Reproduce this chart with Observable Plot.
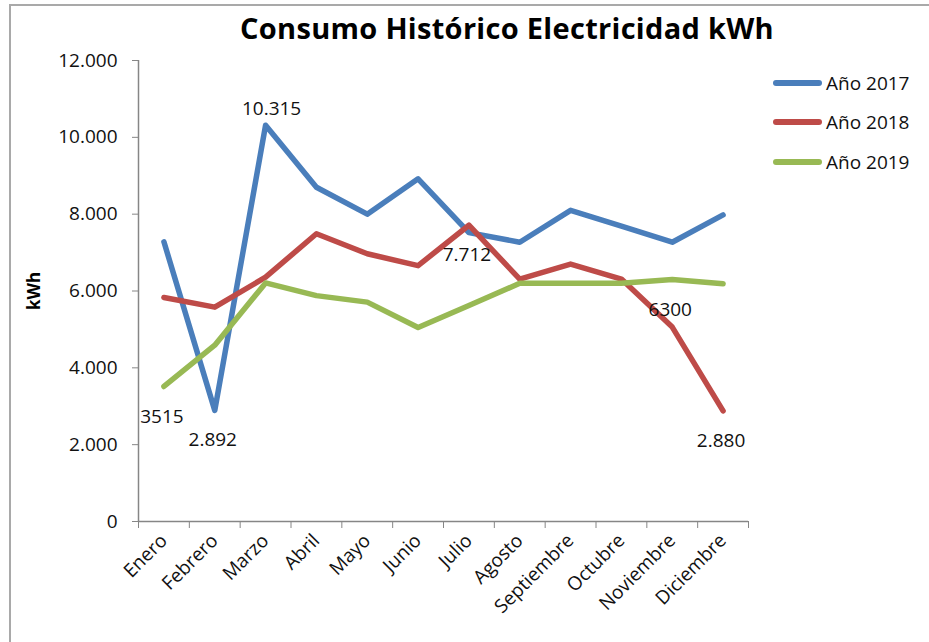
<!DOCTYPE html>
<html>
<head>
<meta charset="utf-8">
<script src="https://cdn.jsdelivr.net/npm/d3@7"></script>
<script src="https://cdn.jsdelivr.net/npm/@observablehq/plot@0.6"></script>
<style>
  html, body { margin: 0; padding: 0; background: #fff; overflow: hidden; }
  #wrap { position: relative; width: 929px; height: 642px; font-family: "Open Sans", sans-serif; }
  #frame { position: absolute; left: 9px; top: 4px; width: 1000px; height: 1000px;
           border-top: 2px solid #a9a9a9; border-left: 2px solid #a9a9a9; }
  #title { position: absolute; left: 0; width: 1014px; top: 9px; text-align: center;
           font-weight: 700; font-size: 29px; line-height: 38px; color: #000; letter-spacing: 0.3px; }
  #ylabel { position: absolute; left: 33px; top: 291px; transform: translate(-50%, -50%) rotate(-90deg);
            font-weight: 700; font-size: 17px; color: #000; white-space: nowrap; }
  .leg { position: absolute; left: 773px; display: flex; align-items: center; font-size: 19px; color: #111; }
  .leg span.sw { display: inline-block; width: 49px; height: 6px; border-radius: 3px; margin-right: 4px; }
  svg { position: absolute; left: 0; top: 0; }
</style>
</head>
<body>
<div id="wrap">
  <div id="frame"></div>
  <div id="title"></div>
  <div id="ylabel"></div>
</div>
<script>
const title = "Consumo Histórico Electricidad kWh";
const yLabel = "kWh";
const months = ["Enero","Febrero","Marzo","Abril","Mayo","Junio","Julio","Agosto","Septiembre","Octubre","Noviembre","Diciembre"];
const seriesNames = ["Año 2017","Año 2018","Año 2019"];
const seriesColors = ["#4a7ebb","#be4b48","#98b954"];
const v2017 = [7280, 2892, 10315, 8700, 8000, 8920, 7520, 7270, 8100, 7690, 7270, 7980];
const v2018 = [5830, 5580, 6360, 7490, 6970, 6660, 7712, 6310, 6700, 6310, 5060, 2880];
const v2019 = [3515, 4590, 6210, 5880, 5710, 5050, 5620, 6200, 6200, 6200, 6300, 6190];
const yTicks = [0, 2000, 4000, 6000, 8000, 10000, 12000];
// data labels: series index, month index, text, placement
const labelSeries = [0, 0, 2, 1, 2, 1];
const labelMonth  = [2, 1, 0, 6, 10, 11];
const labelText   = ["10.315", "2.892", "3515", "7.712", "6300", "2.880"];
const labelPlace  = ["above", "below", "below", "below", "below", "below"];

const allValues = [v2017, v2018, v2019];
const data = [];
allValues.forEach((vals, s) => vals.forEach((v, m) => data.push({series: seriesNames[s], month: m + 0.5, value: v})));
const labels = labelText.map((t, k) => ({
  text: t,
  month: labelMonth[k] + 0.5,
  value: allValues[labelSeries[k]][labelMonth[k]],
  place: labelPlace[k]
}));

const loc = d3.formatLocale({decimal: ",", thousands: ".", grouping: [3], currency: ["", ""]});
const fmt = loc.format(",");
const gray = "#868686";

const chart = Plot.plot({
  width: 929,
  height: 642,
  marginLeft: 138,
  marginRight: 181,
  marginTop: 60,
  marginBottom: 121,
  style: {fontFamily: "'Open Sans', sans-serif", background: "transparent", overflow: "visible"},
  x: {domain: [0, 12]},
  y: {domain: [0, 12000]},
  color: {domain: seriesNames, range: seriesColors},
  marks: [
    Plot.axisY({ticks: yTicks, tickSize: 6, tickPadding: 15, tickFormat: fmt, fontSize: 19, stroke: gray, fill: "#111", label: null}),
    Plot.axisX({ticks: d3.range(0, 13), tickSize: 7, tickFormat: () => "", stroke: gray, label: null}),
    Plot.axisX({ticks: months.map((_, i) => i + 0.5), tickSize: 0, tickPadding: 16, tickRotate: -45,
                tickFormat: d => months[Math.floor(d)], fontSize: 19, fill: "#111", label: null}),
    Plot.ruleX([0], {stroke: gray, strokeWidth: 1.5}),
    Plot.ruleY([0], {stroke: gray, strokeWidth: 1.5}),
    Plot.line(data, {x: "month", y: "value", z: "series", stroke: "series", strokeWidth: 5.5,
                     strokeLinejoin: "round", strokeLinecap: "round"}),
    Plot.text(labels.filter(d => d.place === "above"), {x: "month", y: "value", text: "text", dy: -16, dx: 6, fontSize: 19, fill: "#111"}),
    Plot.text(labels.filter(d => d.place === "below"), {x: "month", y: "value", text: "text", dy: 30, dx: -2, fontSize: 19, fill: "#111"})
  ]
});

const wrap = document.getElementById("wrap");
wrap.appendChild(chart);
document.getElementById("title").textContent = title;
document.getElementById("ylabel").textContent = yLabel;
const legTops = [83, 122, 162];
seriesNames.forEach((n, i) => {
  const d = document.createElement("div");
  d.className = "leg";
  d.style.top = (legTops[i] - 14) + "px";
  d.style.height = "28px";
  d.innerHTML = `<span class="sw" style="background:${seriesColors[i]}"></span><span>${n}</span>`;
  wrap.appendChild(d);
});
</script>
</body>
</html>
